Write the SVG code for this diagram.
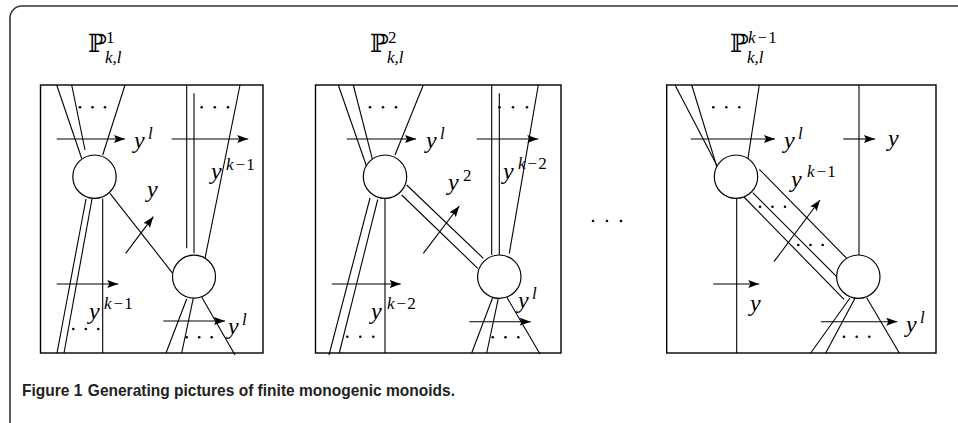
<svg xmlns="http://www.w3.org/2000/svg" width="958" height="423" viewBox="0 0 958 423">
<defs>
<marker id="ah" markerUnits="userSpaceOnUse" markerWidth="11" markerHeight="8" refX="11" refY="4" orient="auto">
<path d="M0,0 L11,4 L0,8 L2,4 z" fill="#000"/>
</marker>
<style>
.frame{fill:none;stroke:#333;stroke-width:1.6}
.box{fill:none;stroke:#000;stroke-width:1.4}
.ln{fill:none;stroke:#000;stroke-width:1.1}
.ar{fill:none;stroke:#000;stroke-width:1.1;marker-end:url(#ah)}
.nd{fill:#fff;stroke:#000;stroke-width:1.2}
.dt{fill:#000}
.m{font-family:"Liberation Serif","DejaVu Serif",serif;font-style:italic;font-size:24px;fill:#000}
.s{font-family:"Liberation Serif","DejaVu Serif",serif;font-style:italic;font-size:17px;fill:#000}
.u{font-style:normal}
.bb{font-family:"DejaVu Serif","DejaVu Sans",serif;font-size:25px;fill:#000}
.cap{font-family:"Liberation Sans","Open Sans",sans-serif;font-weight:bold;font-size:17px;fill:#222}
</style>
</defs>
<rect width="958" height="423" fill="#fff"/>
<path class="frame" d="M10,423 V18 A12,12 0 0 1 22,6 H958"/>

<!-- titles -->
<g id="title1"><text class="bb" x="88" y="52">ℙ</text><text class="s" x="106" y="43"><tspan class="u">1</tspan></text><text class="s" x="105" y="63">k,l</text></g>
<g id="title2"><text class="bb" x="370" y="52">ℙ</text><text class="s" x="388" y="43"><tspan class="u">2</tspan></text><text class="s" x="387" y="63">k,l</text></g>
<g id="title3"><text class="bb" x="730" y="52">ℙ</text><text class="s" x="748" y="43">k<tspan class="u" dx="2">−</tspan><tspan class="u" dx="1">1</tspan></text><text class="s" x="747" y="63">k,l</text></g>

<!-- Panel 1 -->
<g id="panel1">
<rect class="box" x="40.5" y="85" width="222.5" height="268"/>
<g id="p1-connectors">
<line class="ln" x1="56.7" y1="85" x2="81.7" y2="158.5"/>
<line class="ln" x1="71.7" y1="85" x2="85" y2="150"/>
<line class="ln" x1="125" y1="85" x2="102.7" y2="155"/>
<line class="ar" x1="56.7" y1="139" x2="125" y2="139"/>
<line class="ln" x1="186.7" y1="85" x2="186.7" y2="248.3"/>
<line class="ln" x1="194" y1="93.3" x2="194" y2="253.3"/>
<line class="ln" x1="240" y1="85" x2="204" y2="263.3"/>
<line class="ar" x1="171.7" y1="139" x2="248.3" y2="139"/>
<line class="ln" x1="110" y1="193.3" x2="172.7" y2="273.3"/>
<line class="ar" x1="125.7" y1="253.3" x2="153.3" y2="216.7"/>
<line class="ln" x1="86" y1="199" x2="57" y2="353"/>
<line class="ln" x1="92" y1="199" x2="64" y2="353"/>
<line class="ln" x1="102.7" y1="198.4" x2="102.7" y2="353"/>
<line class="ar" x1="56.7" y1="284" x2="118.3" y2="284"/>
<line class="ln" x1="186.7" y1="299" x2="166" y2="353"/>
<line class="ln" x1="193.3" y1="298.2" x2="181.7" y2="353"/>
<line class="ln" x1="201.7" y1="297" x2="235" y2="355"/>
<line class="ar" x1="163.3" y1="321" x2="225" y2="321"/>
</g>
<g id="p1-nodeA"><circle class="nd" cx="94.5" cy="176.7" r="21.7"/></g>
<g id="p1-nodeB"><circle class="nd" cx="194" cy="276.7" r="21.5"/></g>
<g class="dt">
<circle cx="80" cy="107.3" r="1.3"/><circle cx="92.5" cy="107.3" r="1.3"/><circle cx="105" cy="107.3" r="1.3"/>
<circle cx="201.7" cy="107.3" r="1.3"/><circle cx="214.8" cy="107.3" r="1.3"/><circle cx="228" cy="107.3" r="1.3"/>
<circle cx="73.3" cy="329" r="1.3"/><circle cx="85.8" cy="329" r="1.3"/><circle cx="98.3" cy="329" r="1.3"/>
<circle cx="186.7" cy="337.3" r="1.3"/><circle cx="199.2" cy="337.3" r="1.3"/><circle cx="211.7" cy="337.3" r="1.3"/>
</g>
<text class="m" x="134" y="148">y</text><text class="s" x="148" y="139">l</text>
<text class="m" x="211" y="179">y</text><text class="s" x="226" y="170">k<tspan class="u" dx="2">−</tspan><tspan class="u" dx="1">1</tspan></text>
<text class="m" x="147" y="197">y</text>
<text class="m" x="89" y="319">y</text><text class="s" x="104" y="309">k<tspan class="u" dx="2">−</tspan><tspan class="u" dx="1">1</tspan></text>
<text class="m" x="228" y="334">y</text><text class="s" x="242" y="325">l</text>
</g>

<!-- Panel 2 -->
<g id="panel2">
<rect class="box" x="315.5" y="85" width="245.5" height="268"/>
<g id="p2-connectors">
<line class="ln" x1="338.3" y1="85" x2="366.7" y2="166.7"/>
<line class="ln" x1="353.3" y1="85" x2="374.3" y2="166.7"/>
<line class="ln" x1="423.3" y1="85" x2="395" y2="155"/>
<line class="ar" x1="346.7" y1="139" x2="416" y2="139"/>
<line class="ln" x1="491.7" y1="85" x2="491.7" y2="255"/>
<line class="ln" x1="499.3" y1="93.3" x2="499.3" y2="255"/>
<line class="ln" x1="538.3" y1="85" x2="509.3" y2="253.3"/>
<line class="ar" x1="476.7" y1="139" x2="538.3" y2="139"/>
<line class="ln" x1="406.7" y1="185" x2="483.3" y2="258.3"/>
<line class="ln" x1="401.7" y1="195" x2="477.7" y2="268.3"/>
<line class="ar" x1="423.3" y1="253.3" x2="459.3" y2="206"/>
<line class="ln" x1="370" y1="198" x2="329" y2="355"/>
<line class="ln" x1="377.7" y1="199.5" x2="339.3" y2="353"/>
<line class="ln" x1="385" y1="198.4" x2="385" y2="353"/>
<line class="ar" x1="331.7" y1="284" x2="400.7" y2="284"/>
<line class="ln" x1="492.7" y1="297.5" x2="471.7" y2="353"/>
<line class="ln" x1="498.3" y1="298.4" x2="486.7" y2="353"/>
<line class="ln" x1="506.7" y1="297" x2="540" y2="354"/>
<line class="ar" x1="469.3" y1="321.7" x2="530.7" y2="321.7"/>
</g>
<g id="p2-nodeA"><circle class="nd" cx="385" cy="176.7" r="21.7"/></g>
<g id="p2-nodeB"><circle class="nd" cx="499.3" cy="276.7" r="21.7"/></g>
<g class="dt">
<circle cx="370" cy="107.3" r="1.3"/><circle cx="383" cy="107.3" r="1.3"/><circle cx="396" cy="107.3" r="1.3"/>
<circle cx="499.5" cy="107.3" r="1.3"/><circle cx="513" cy="107.3" r="1.3"/><circle cx="527" cy="107.3" r="1.3"/>
<circle cx="347.3" cy="336.7" r="1.3"/><circle cx="360.3" cy="336.7" r="1.3"/><circle cx="373.3" cy="336.7" r="1.3"/>
<circle cx="492.7" cy="337.3" r="1.3"/><circle cx="505.5" cy="337.3" r="1.3"/><circle cx="518.3" cy="337.3" r="1.3"/>
</g>
<text class="m" x="426" y="148">y</text><text class="s" x="440" y="139">l</text>
<text class="m" x="503" y="179">y</text><text class="s" x="518" y="169">k<tspan class="u" dx="2">−</tspan><tspan class="u" dx="1">2</tspan></text>
<text class="m" x="448" y="190">y</text><text class="s" x="463" y="181"><tspan class="u">2</tspan></text>
<text class="m" x="371" y="319">y</text><text class="s" x="387" y="309">k<tspan class="u" dx="2">−</tspan><tspan class="u" dx="1">2</tspan></text>
<text class="m" x="518" y="308">y</text><text class="s" x="532" y="299">l</text>
</g>

<!-- middle dots -->
<g class="dt" id="ellipsis"><circle cx="593" cy="221" r="1.3"/><circle cx="607" cy="221" r="1.3"/><circle cx="621" cy="221" r="1.3"/></g>

<!-- Panel 3 -->
<g id="panel3">
<rect class="box" x="666.7" y="85" width="269.3" height="268"/>
<g id="p3-connectors">
<line class="ln" x1="675" y1="85" x2="716.7" y2="165"/>
<line class="ln" x1="691.7" y1="85" x2="718.3" y2="171.7"/>
<line class="ln" x1="759.3" y1="85" x2="747.3" y2="162.7"/>
<line class="ar" x1="690.7" y1="139" x2="775" y2="139"/>
<line class="ln" x1="859" y1="85" x2="859" y2="255"/>
<line class="ar" x1="843.3" y1="139" x2="875" y2="139"/>
<line class="ln" x1="759.3" y1="169.3" x2="850" y2="261.7"/>
<line class="ln" x1="752.7" y1="192.7" x2="843.3" y2="283.3"/>
<line class="ln" x1="744" y1="197" x2="844" y2="299.3"/>
<line class="ar" x1="774" y1="261.7" x2="820" y2="200"/>
<line class="ln" x1="736.7" y1="198.4" x2="736.7" y2="353"/>
<line class="ar" x1="713.3" y1="284" x2="759.3" y2="284"/>
<line class="ln" x1="850" y1="298" x2="810.7" y2="353"/>
<line class="ln" x1="855" y1="298.2" x2="825.7" y2="353"/>
<line class="ln" x1="866.7" y1="297.8" x2="899.3" y2="353"/>
<line class="ar" x1="820.7" y1="321.7" x2="897.3" y2="321.7"/>
</g>
<g id="p3-nodeA"><circle class="nd" cx="736" cy="176.7" r="21.7"/></g>
<g id="p3-nodeB"><circle class="nd" cx="858.3" cy="276.7" r="21.7"/></g>
<g class="dt">
<circle cx="713.3" cy="107.3" r="1.3"/><circle cx="726.3" cy="107.3" r="1.3"/><circle cx="739.3" cy="107.3" r="1.3"/>
<circle cx="760" cy="206.7" r="1.3"/><circle cx="772.5" cy="206.7" r="1.3"/><circle cx="785" cy="206.7" r="1.3"/>
<circle cx="798.3" cy="245" r="1.3"/><circle cx="810.5" cy="245" r="1.3"/><circle cx="822.7" cy="245" r="1.3"/>
<circle cx="844" cy="336.7" r="1.3"/><circle cx="856.7" cy="336.7" r="1.3"/><circle cx="869.3" cy="336.7" r="1.3"/>
</g>
<text class="m" x="784" y="148">y</text><text class="s" x="798" y="139">l</text>
<text class="m" x="888" y="146">y</text>
<text class="m" x="791" y="187">y</text><text class="s" x="807" y="177">k<tspan class="u" dx="2">−</tspan><tspan class="u" dx="1">1</tspan></text>
<text class="m" x="750" y="311">y</text>
<text class="m" x="906" y="332">y</text><text class="s" x="920" y="323">l</text>
</g>

<text class="cap" x="22" y="396" textLength="433" lengthAdjust="spacingAndGlyphs">Figure 1<tspan dx="6">Generating pictures of finite monogenic monoids.</tspan></text>
</svg>
